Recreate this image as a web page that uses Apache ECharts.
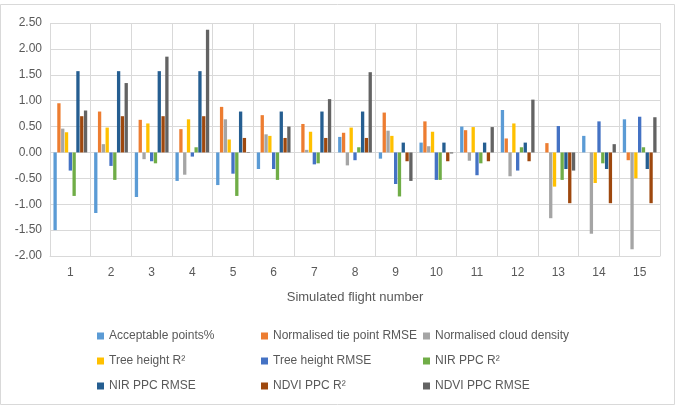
<!DOCTYPE html>
<html>
<head>
<meta charset="utf-8">
<script src="https://cdn.jsdelivr.net/npm/echarts@6/dist/echarts.min.js"></script>
<style>
  html, body { margin: 0; padding: 0; background: #fff; }
  #main { width: 675px; height: 407px; }
</style>
</head>
<body>
<div id="main"></div>
<script>
var flights = ['1', '2', '3', '4', '5', '6', '7', '8', '9', '10', '11', '12', '13', '14', '15'];

var acceptablePoints = [-1.50, -1.17, -0.86, -0.55, -0.63, -0.32, 0.00, 0.30, -0.12, 0.19, 0.50, 0.82, 0.00, 0.32, 0.64];
var tiePointRmse     = [0.95, 0.79, 0.63, 0.45, 0.88, 0.72, 0.55, 0.38, 0.77, 0.60, 0.43, 0.27, 0.18, 0.00, -0.15];
var cloudDensity     = [0.46, 0.16, -0.13, -0.43, 0.64, 0.35, 0.05, -0.25, 0.42, 0.12, -0.16, -0.46, -1.27, -1.57, -1.87];
var treeHeightR2     = [0.39, 0.48, 0.56, 0.64, 0.25, 0.32, 0.40, 0.48, 0.32, 0.40, 0.49, 0.56, -0.66, -0.59, -0.50];
var treeHeightRmse   = [-0.35, -0.26, -0.17, -0.08, -0.41, -0.32, -0.23, -0.15, -0.61, -0.53, -0.44, -0.35, 0.51, 0.60, 0.69];
var nirPpcR2         = [-0.84, -0.53, -0.21, 0.10, -0.84, -0.53, -0.21, 0.10, -0.85, -0.53, -0.21, 0.10, -0.53, -0.21, 0.10];
var nirPpcRmse       = [1.57, 1.57, 1.57, 1.57, 0.79, 0.79, 0.79, 0.79, 0.19, 0.19, 0.19, 0.19, -0.32, -0.32, -0.32];
var ndviPpcR2        = [0.70, 0.70, 0.70, 0.70, 0.28, 0.28, 0.28, 0.28, -0.17, -0.17, -0.17, -0.17, -0.98, -0.98, -0.98];
var ndviPpcRmse      = [0.81, 1.34, 1.85, 2.37, -0.01, 0.50, 1.03, 1.55, -0.55, -0.02, 0.49, 1.02, -0.35, 0.16, 0.68];

var seriesNames = ['Acceptable points%', 'Normalised tie point RMSE', 'Normalised cloud density',
                   'Tree height R²', 'Tree height RMSE', 'NIR PPC R²',
                   'NIR PPC RMSE', 'NDVI PPC R²', 'NDVI PPC RMSE'];
var seriesData = [acceptablePoints, tiePointRmse, cloudDensity, treeHeightR2, treeHeightRmse,
                  nirPpcR2, nirPpcRmse, ndviPpcR2, ndviPpcRmse];
var colors = ['#5B9BD5', '#ED7D31', '#A5A5A5', '#FFC000', '#4472C4', '#70AD47', '#255E91', '#9E480E', '#636363'];

var font = 'Liberation Sans';
var textColor = '#595959';

// one legend per item so they line up in a 3x3 grid
var legendCols = [97, 261, 423];
var legendRows = [330, 355, 380];
var legends = seriesNames.map(function (name, i) {
    return {
        data: [name],
        left: legendCols[i % 3],
        top: legendRows[Math.floor(i / 3)],
        icon: 'rect',
        itemWidth: 7,
        itemHeight: 7,
        itemGap: 0,
        padding: 0,
        selectedMode: false,
        textStyle: { fontFamily: font, fontSize: 12, color: textColor, padding: [0, 0, 0, 0] }
    };
});

var series = seriesNames.map(function (name, i) {
    return {
        name: name,
        type: 'bar',
        data: seriesData[i],
        itemStyle: { color: colors[i] },
        barGap: '15%',
        barCategoryGap: '17%'
    };
});

var myChart = echarts.init(document.getElementById('main'));
var option = {
    animation: false,
    color: colors,
    grid: { left: 50, right: 15, top: 23, bottom: 151 },
    legend: legends,
    graphic: [{
        type: 'rect',
        shape: { x: 0.5, y: 4.5, width: 674, height: 400 },
        style: { fill: 'none', stroke: '#D9D9D9', lineWidth: 1 },
        silent: true
    }],
    xAxis: {
        type: 'category',
        data: flights,
        name: 'Simulated flight number',
        nameLocation: 'middle',
        nameGap: 35,
        nameTextStyle: { fontFamily: font, fontSize: 13, color: textColor },
        axisLine: { onZero: false, lineStyle: { color: '#D9D9D9' } },
        axisTick: { show: false },
        axisLabel: { fontFamily: font, fontSize: 12, color: textColor, margin: 11 },
        splitLine: { show: true, lineStyle: { color: '#D9D9D9' } }
    },
    yAxis: {
        type: 'value',
        min: -2,
        max: 2.5,
        interval: 0.5,
        axisLine: { show: false },
        axisTick: { show: false },
        axisLabel: {
            fontFamily: font, fontSize: 12, color: textColor, margin: 8,
            formatter: function (v) { return v.toFixed(2); }
        },
        splitLine: { lineStyle: { color: '#D9D9D9' } }
    },
    series: series
};
myChart.setOption(option);
</script>
</body>
</html>
